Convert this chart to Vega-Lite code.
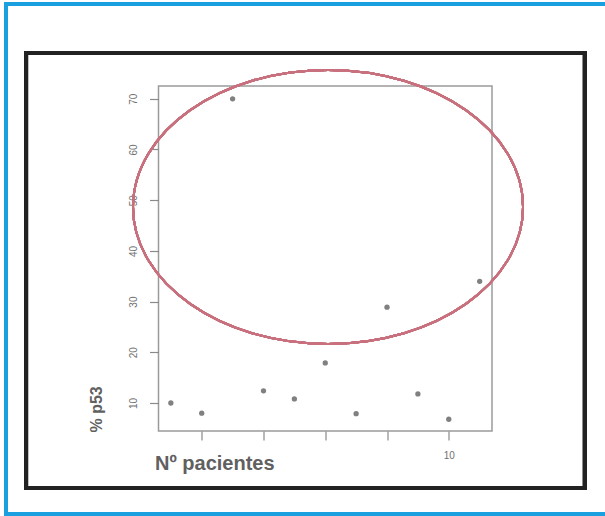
{
  "$schema": "https://vega.github.io/schema/vega-lite/v6.json",
  "width": 333.5,
  "height": 345,
  "autosize": "none",
  "padding": {"left": 158.5, "top": 86, "right": 113, "bottom": 85},
  "background": "#ffffff",
  "config": {
    "font": "Liberation Sans",
    "view": {"stroke": "#9a9a9a", "strokeWidth": 1.5}
  },
  "data": {
    "values": [
      {"paciente": 1, "p53": 10},
      {"paciente": 2, "p53": 8},
      {"paciente": 3, "p53": 70},
      {"paciente": 4, "p53": 12.4},
      {"paciente": 5, "p53": 10.8},
      {"paciente": 6, "p53": 17.9},
      {"paciente": 7, "p53": 7.9},
      {"paciente": 8, "p53": 28.9},
      {"paciente": 9, "p53": 11.8},
      {"paciente": 10, "p53": 6.8},
      {"paciente": 11, "p53": 34}
    ]
  },
  "layer": [
    {
      "description": "outer blue page frame, open on the right",
      "mark": {"type": "rect", "fill": null, "stroke": "#1aa0df", "strokeWidth": 3, "clip": false},
      "encoding": {
        "x": {"datum": -4.34, "type": "quantitative"},
        "x2": {"datum": 22},
        "y": {"datum": 88.7, "type": "quantitative"},
        "y2": {"datum": -11.89}
      }
    },
    {
      "description": "black figure frame",
      "mark": {"type": "rect", "fill": null, "stroke": "#222222", "strokeWidth": 4, "clip": false},
      "encoding": {
        "x": {"datum": -3.69, "type": "quantitative"},
        "x2": {"datum": 14.41},
        "y": {"datum": 79.03, "type": "quantitative"},
        "y2": {"datum": -6.76}
      }
    },
    {
      "description": "highlighted group of high p53 values",
      "mark": {
        "type": "point",
        "shape": "M-1,0A1,0.7026,0,1,1,1,0A1,0.7026,0,1,1,-1,0Z",
        "size": 152100,
        "filled": false,
        "stroke": "#c8707e",
        "strokeWidth": 2,
        "opacity": 1
      },
      "encoding": {
        "x": {"datum": 6.09, "type": "quantitative"},
        "y": {"datum": 48.66, "type": "quantitative"}
      }
    },
    {
      "mark": {"type": "circle", "size": 28, "color": "#808080", "opacity": 1},
      "encoding": {
        "x": {
          "field": "paciente",
          "type": "quantitative",
          "scale": {"domain": [0.6, 11.4], "nice": false, "zero": false},
          "axis": {
            "title": "Nº pacientes",
            "values": [2, 4, 6, 8, 10],
            "labelExpr": "datum.value == 10 ? '10' : ''",
            "grid": false,
            "domain": false,
            "tickSize": 9,
            "tickColor": "#8a8a8a",
            "tickWidth": 1.2,
            "labelColor": "#707070",
            "labelFontSize": 10,
            "labelPadding": 10,
            "titleFontSize": 20,
            "titleColor": "#606060",
            "titleFontWeight": "bold",
            "titleAnchor": "start",
            "titleAlign": "left",
            "titleBaseline": "alphabetic",
            "titleX": -4,
            "titleY": 38
          }
        },
        "y": {
          "field": "p53",
          "type": "quantitative",
          "scale": {"domain": [4.48, 72.52], "nice": false, "zero": false},
          "axis": {
            "title": "% p53",
            "values": [10, 20, 30, 40, 50, 60, 70],
            "grid": false,
            "domain": false,
            "tickSize": 9,
            "tickColor": "#8a8a8a",
            "tickWidth": 1.2,
            "labelAngle": -90,
            "labelAlign": "center",
            "labelBaseline": "bottom",
            "labelColor": "#707070",
            "labelFontSize": 10,
            "labelPadding": 11,
            "titleFontSize": 16,
            "titleColor": "#606060",
            "titleFontWeight": "bold",
            "titleAngle": -90,
            "titleAlign": "left",
            "titleBaseline": "alphabetic",
            "titleX": -57,
            "titleY": 346
          }
        }
      }
    }
  ]
}
